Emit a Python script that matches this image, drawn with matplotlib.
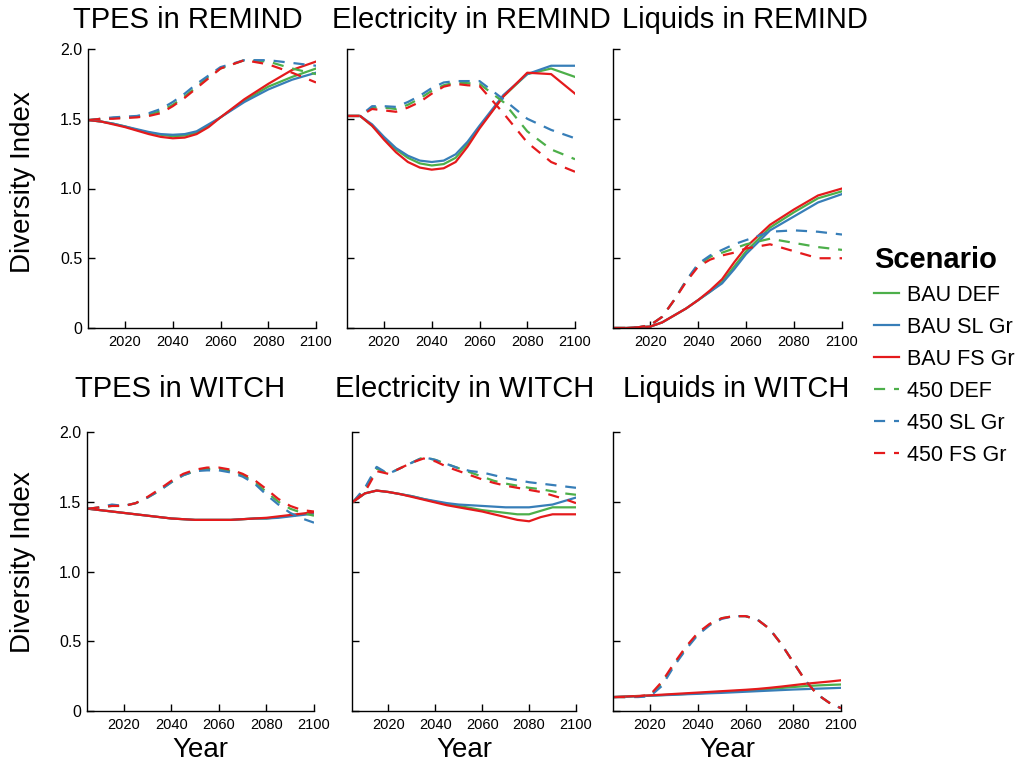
import matplotlib
matplotlib.use("Agg")
import matplotlib.pyplot as plt
from matplotlib.lines import Line2D

plt.rcParams['font.family'] = ['Liberation Sans', 'DejaVu Sans']

# scenario names, colours and line styles (in plotting order)
scenarios = ['BAU DEF', 'BAU SL Gr', 'BAU FS Gr', '450 DEF', '450 SL Gr', '450 FS Gr']
colors = ['#4DAF4A', '#377EB8', '#E41A1C', '#4DAF4A', '#377EB8', '#E41A1C']
styles = ['-', '-', '-', '--', '--', '--']

remind_years = [2005, 2010, 2015, 2020, 2025, 2030, 2035, 2040, 2045, 2050,
                2055, 2060, 2070, 2080, 2090, 2100]
witch_years = [2005, 2010, 2015, 2020, 2025, 2030, 2035, 2040, 2045, 2050,
               2055, 2060, 2065, 2070, 2075, 2080, 2085, 2090, 2095, 2100]

# Diversity index, one row per scenario
tpes_remind = [
    [1.49, 1.48, 1.465, 1.445, 1.42, 1.40, 1.385, 1.375, 1.38, 1.40, 1.45, 1.51, 1.63, 1.73, 1.80, 1.86],
    [1.49, 1.48, 1.465, 1.445, 1.425, 1.405, 1.39, 1.385, 1.39, 1.41, 1.46, 1.51, 1.62, 1.71, 1.78, 1.83],
    [1.49, 1.48, 1.46, 1.44, 1.415, 1.39, 1.37, 1.36, 1.365, 1.39, 1.44, 1.51, 1.64, 1.75, 1.85, 1.91],
    [1.49, 1.50, 1.505, 1.51, 1.515, 1.53, 1.555, 1.60, 1.66, 1.73, 1.80, 1.86, 1.92, 1.91, 1.86, 1.82],
    [1.49, 1.50, 1.51, 1.515, 1.52, 1.54, 1.57, 1.62, 1.68, 1.75, 1.81, 1.87, 1.92, 1.92, 1.90, 1.88],
    [1.49, 1.50, 1.50, 1.505, 1.51, 1.52, 1.54, 1.59, 1.65, 1.72, 1.79, 1.86, 1.92, 1.89, 1.83, 1.76],
]
elec_remind = [
    [1.52, 1.52, 1.45, 1.36, 1.28, 1.22, 1.18, 1.165, 1.175, 1.22, 1.32, 1.44, 1.66, 1.82, 1.86, 1.80],
    [1.52, 1.52, 1.46, 1.37, 1.29, 1.235, 1.20, 1.19, 1.20, 1.245, 1.335, 1.45, 1.67, 1.82, 1.88, 1.88],
    [1.52, 1.52, 1.45, 1.35, 1.26, 1.19, 1.15, 1.135, 1.145, 1.19, 1.30, 1.43, 1.66, 1.83, 1.82, 1.68],
    [1.52, 1.52, 1.58, 1.58, 1.57, 1.60, 1.645, 1.70, 1.74, 1.76, 1.755, 1.75, 1.62, 1.41, 1.28, 1.21],
    [1.52, 1.52, 1.59, 1.59, 1.585, 1.62, 1.665, 1.72, 1.76, 1.77, 1.77, 1.77, 1.64, 1.50, 1.42, 1.36],
    [1.52, 1.52, 1.57, 1.56, 1.55, 1.58, 1.62, 1.68, 1.73, 1.75, 1.74, 1.735, 1.54, 1.33, 1.19, 1.12],
]
liq_remind = [
    [0.0, 0.0, 0.005, 0.01, 0.04, 0.09, 0.14, 0.20, 0.26, 0.33, 0.44, 0.55, 0.72, 0.83, 0.93, 0.98],
    [0.0, 0.0, 0.005, 0.01, 0.04, 0.09, 0.14, 0.20, 0.26, 0.32, 0.42, 0.53, 0.70, 0.80, 0.90, 0.96],
    [0.0, 0.0, 0.005, 0.01, 0.04, 0.09, 0.14, 0.20, 0.27, 0.35, 0.47, 0.58, 0.74, 0.85, 0.95, 1.00],
    [0.0, 0.0, 0.005, 0.02, 0.08, 0.20, 0.34, 0.45, 0.51, 0.54, 0.57, 0.60, 0.64, 0.61, 0.58, 0.56],
    [0.0, 0.0, 0.005, 0.02, 0.08, 0.20, 0.34, 0.46, 0.52, 0.56, 0.60, 0.63, 0.69, 0.70, 0.69, 0.67],
    [0.0, 0.0, 0.005, 0.02, 0.08, 0.20, 0.33, 0.44, 0.49, 0.52, 0.54, 0.57, 0.60, 0.55, 0.50, 0.50],
]
tpes_witch = [
    [1.45, 1.44, 1.43, 1.42, 1.41, 1.40, 1.39, 1.38, 1.375, 1.37, 1.37, 1.37, 1.37, 1.375, 1.38, 1.38, 1.39, 1.40, 1.41, 1.42],
    [1.45, 1.44, 1.43, 1.42, 1.41, 1.40, 1.39, 1.38, 1.375, 1.37, 1.37, 1.37, 1.37, 1.375, 1.38, 1.38, 1.385, 1.395, 1.405, 1.415],
    [1.45, 1.44, 1.43, 1.42, 1.41, 1.40, 1.39, 1.38, 1.375, 1.37, 1.37, 1.37, 1.37, 1.375, 1.38, 1.385, 1.395, 1.405, 1.415, 1.425],
    [1.45, 1.46, 1.47, 1.47, 1.49, 1.53, 1.58, 1.64, 1.69, 1.72, 1.735, 1.735, 1.72, 1.69, 1.64, 1.57, 1.50, 1.45, 1.42, 1.40],
    [1.45, 1.46, 1.48, 1.47, 1.49, 1.53, 1.58, 1.64, 1.69, 1.72, 1.725, 1.725, 1.71, 1.68, 1.63, 1.55, 1.48, 1.42, 1.38, 1.35],
    [1.45, 1.46, 1.47, 1.47, 1.49, 1.535, 1.59, 1.65, 1.70, 1.73, 1.745, 1.745, 1.73, 1.70, 1.655, 1.59, 1.52, 1.47, 1.44, 1.43],
]
elec_witch = [
    [1.50, 1.56, 1.58, 1.57, 1.555, 1.54, 1.52, 1.50, 1.485, 1.47, 1.455, 1.44, 1.43, 1.42, 1.41, 1.41, 1.435, 1.46, 1.46, 1.46],
    [1.50, 1.56, 1.58, 1.57, 1.555, 1.54, 1.52, 1.505, 1.49, 1.48, 1.475, 1.47, 1.465, 1.46, 1.46, 1.46, 1.47, 1.48, 1.505, 1.53],
    [1.50, 1.56, 1.58, 1.57, 1.555, 1.535, 1.515, 1.495, 1.475, 1.46, 1.445, 1.43, 1.41, 1.39, 1.37, 1.36, 1.39, 1.41, 1.41, 1.41],
    [1.50, 1.59, 1.74, 1.70, 1.74, 1.78, 1.82, 1.80, 1.77, 1.74, 1.71, 1.68, 1.65, 1.63, 1.615, 1.60, 1.59, 1.575, 1.56, 1.55],
    [1.50, 1.60, 1.75, 1.70, 1.74, 1.78, 1.82, 1.80, 1.77, 1.74, 1.72, 1.71, 1.69, 1.67, 1.655, 1.64, 1.63, 1.62, 1.61, 1.60],
    [1.50, 1.57, 1.72, 1.70, 1.74, 1.78, 1.81, 1.79, 1.75, 1.72, 1.69, 1.66, 1.635, 1.615, 1.60, 1.585, 1.57, 1.545, 1.52, 1.49],
]
liq_witch = [
    [0.10, 0.103, 0.106, 0.11, 0.114, 0.118, 0.122, 0.127, 0.132, 0.137, 0.142, 0.147, 0.152, 0.158, 0.165, 0.172, 0.178, 0.183, 0.187, 0.19],
    [0.10, 0.103, 0.106, 0.11, 0.113, 0.116, 0.12, 0.123, 0.127, 0.13, 0.134, 0.138, 0.142, 0.146, 0.15, 0.154, 0.157, 0.16, 0.163, 0.166],
    [0.10, 0.104, 0.108, 0.112, 0.117, 0.122, 0.127, 0.132, 0.137, 0.142, 0.147, 0.152, 0.158, 0.166, 0.175, 0.185, 0.195, 0.203, 0.211, 0.22],
    [0.10, 0.10, 0.105, 0.11, 0.20, 0.33, 0.45, 0.55, 0.62, 0.665, 0.68, 0.68, 0.655, 0.59, 0.48, 0.35, 0.22, 0.12, 0.06, 0.02],
    [0.10, 0.10, 0.10, 0.105, 0.18, 0.32, 0.44, 0.545, 0.615, 0.66, 0.68, 0.68, 0.655, 0.59, 0.48, 0.35, 0.22, 0.12, 0.06, 0.02],
    [0.10, 0.10, 0.105, 0.115, 0.21, 0.34, 0.46, 0.56, 0.625, 0.665, 0.68, 0.68, 0.655, 0.59, 0.48, 0.35, 0.22, 0.12, 0.06, 0.02],
]

panel_titles = ['TPES in REMIND', 'Electricity in REMIND', 'Liquids in REMIND',
                'TPES in WITCH', 'Electricity in WITCH', 'Liquids in WITCH']
panel_data = [tpes_remind, elec_remind, liq_remind, tpes_witch, elec_witch, liq_witch]
panel_years = [remind_years] * 3 + [witch_years] * 3

W, H = 1019, 765
fig = plt.figure(figsize=(W / 100, H / 100), dpi=100)

# axes boxes in pixels: left, top, right, bottom
boxes = [(88, 49, 316, 328), (347, 49, 575, 328), (613, 49, 842, 328),
         (87, 432, 314, 711), (352, 432, 576, 711), (613, 432, 841, 711)]
# title centres (x) and baselines (y) in pixels
title_pos = [(188, 28), (471, 28), (745, 28), (180, 397), (465, 397), (736, 397)]

for i, (l, t, r, b) in enumerate(boxes):
    ax = fig.add_axes([l / W, 1 - b / H, (r - l) / W, (b - t) / H])
    years = panel_years[i]
    for s, vals in enumerate(panel_data[i]):
        if styles[s] == '--':
            ax.plot(years, vals, color=colors[s], lw=1.6, dashes=(5, 4))
        else:
            ax.plot(years, vals, color=colors[s], lw=1.6)
    ax.set_xlim(2004.5, 2100)
    ax.set_ylim(0, 2)
    ax.set_xticks([2020, 2040, 2060, 2080, 2100])
    ax.set_yticks([0, 0.5, 1.0, 1.5, 2.0])
    if i % 3 == 0:
        ax.set_yticklabels(['0', '0.5', '1.0', '1.5', '2.0'])
    else:
        ax.set_yticklabels([])
    for sp in ['top', 'right']:
        ax.spines[sp].set_visible(False)
    for sp in ['left', 'bottom']:
        ax.spines[sp].set_linewidth(1.0)
    ax.tick_params(direction='in', length=5, width=1.0, colors='black')
    ax.tick_params(axis='x', labelsize=10.5, pad=5)
    ax.tick_params(axis='y', labelsize=11.5, pad=4)
    ax.patch.set_alpha(0)
    tx, ty = title_pos[i]
    fig.text(tx / W, 1 - ty / H, panel_titles[i], fontsize=21,
             ha='center', va='baseline')
    if i >= 3:
        fig.text((l + r) / 2 / W, 1 - 757 / H, 'Year', fontsize=20,
                 ha='center', va='baseline')

fig.text(23 / W, 1 - 182 / H, 'Diversity Index', fontsize=20, rotation=90,
         ha='center', va='center')
fig.text(23 / W, 1 - 562 / H, 'Diversity Index', fontsize=20, rotation=90,
         ha='center', va='center')

handles = []
for s in range(len(scenarios)):
    if styles[s] == '--':
        h = Line2D([], [], color=colors[s], lw=1.6, dashes=(5, 4))
    else:
        h = Line2D([], [], color=colors[s], lw=1.6)
    handles.append(h)
leg = fig.legend(handles, scenarios, loc='upper left',
                 bbox_to_anchor=(874 / W, 1 - 246 / H), frameon=False,
                 fontsize=15.5, title='Scenario', alignment='left',
                 title_fontproperties={'size': 21, 'weight': 'bold'},
                 handlelength=1.15, handletextpad=0.36, labelspacing=0.51,
                 borderpad=0, borderaxespad=0)

fig.savefig('out.png', dpi=100)
